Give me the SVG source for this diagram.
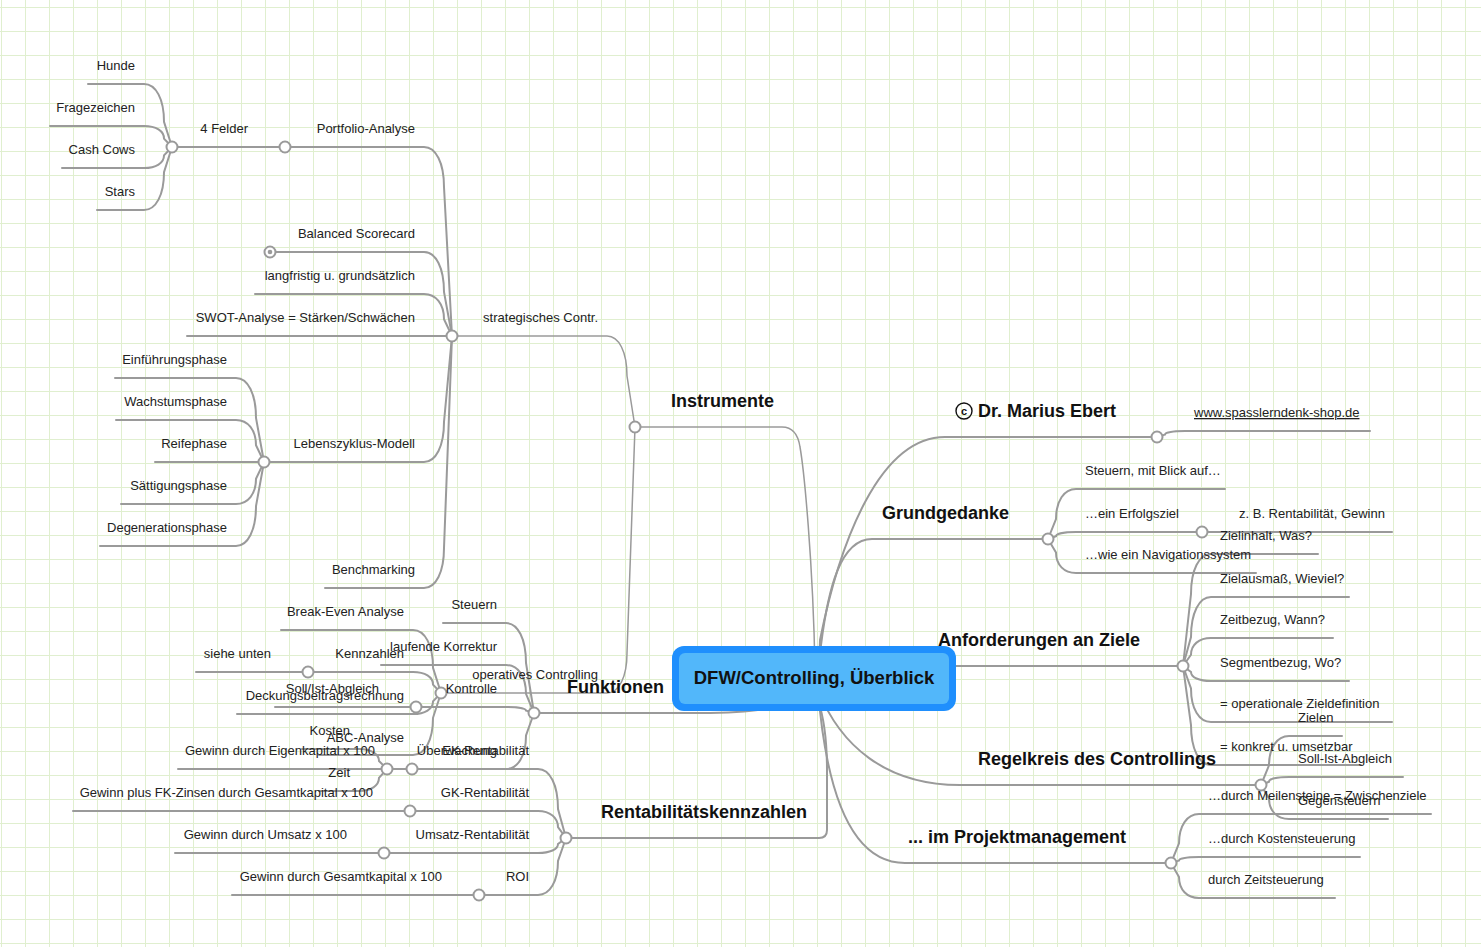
<svg xmlns="http://www.w3.org/2000/svg" width="1481" height="947" viewBox="0 0 1481 947">
<style>
.c{fill:none;stroke:#9a9a9a;stroke-width:2;stroke-linecap:round}
.ct{stroke-width:1.5}
.n{fill:#fff;stroke:#9a9a9a;stroke-width:2}
.t{font-family:"Liberation Sans",Arial,sans-serif;font-size:13px;fill:#222}
.l{text-anchor:end}
.b{font-size:18px;font-weight:bold;fill:#111}
</style>
<defs>
<pattern id="grid" x="1" y="7" width="24" height="24" patternUnits="userSpaceOnUse">
<path d="M0.5 0V24M0 0.5H24" stroke="#e0efcf" stroke-width="1" fill="none"/>
</pattern>
</defs>
<rect width="1481" height="947" fill="#fff"/>
<rect width="1481" height="947" fill="url(#grid)"/>

<g id="connectors">
<path class="c ct" d="M815,670 C813,560 804,470 800,447 Q797,427 782,427 L635,427"/>
<path class="c" d="M816,680 C800,712 740,713 700,713 L534,713"/>
<path class="c" d="M818,700 C824,718 827,740 827,770 L827,830 Q827,838 819,838 L566,838"/>
<path class="c" d="M819,670 L820,640 C840,540 880,437 945,437 L1157,437"/>
<path class="c" d="M819,670 L821,645 C828,590 840,539 872,539 L1048,539"/>
<path class="c" d="M900,666 L1183,666"/>
<path class="c" d="M818,690 C840,745 885,785 960,785 L1261,785"/>
<path class="c" d="M818,690 C826,790 850,863 905,863 L1171,863"/>
<path class="c ct" d="M452,336 L607,336 C619,336 627,352 627,376 L635,427"/>
<path class="c ct" d="M441,693 L607,693 C619,693 627,677 627,653 L635,427"/>
<path class="c" d="M285,147 L424,147 C436,147 444,163 444,187 L452,336"/>
<path class="c" d="M270,252 L424,252 C436,252 444,268 444,292 L452,336"/>
<path class="c" d="M255,294 L424,294 C436,294 444,304.1 444,319.2 L452,336"/>
<path class="c" d="M187,336 L452,336"/>
<path class="c" d="M264,462 L424,462 C436,462 444,446 444,422 L452,336"/>
<path class="c" d="M325,588 L424,588 C436,588 444,572 444,548 L452,336"/>
<path class="c" d="M172,147 L285,147"/>
<path class="c" d="M88,84 L144,84 C156,84 164,99.1 164,121.8 L172,147"/>
<path class="c" d="M50,126 L144,126 C156,126 164,131 164,138.6 L172,147"/>
<path class="c" d="M62,168 L144,168 C156,168 164,163 164,155.4 L172,147"/>
<path class="c" d="M97,210 L144,210 C156,210 164,194.9 164,172.2 L172,147"/>
<path class="c" d="M115,378 L236,378 C248,378 256,394 256,418 L264,462"/>
<path class="c" d="M116,420 L236,420 C248,420 256,430.1 256,445.2 L264,462"/>
<path class="c" d="M155,462 L264,462"/>
<path class="c" d="M121,504 L236,504 C248,504 256,493.9 256,478.8 L264,462"/>
<path class="c" d="M100,546 L236,546 C248,546 256,530 256,506 L264,462"/>
<path class="c" d="M281,630 L413,630 C425,630 433,645.1 433,667.8 L441,693"/>
<path class="c" d="M308,672 L413,672 C425,672 433,677 433,684.6 L441,693"/>
<path class="c" d="M237,714 L413,714 C425,714 433,709 433,701.4 L441,693"/>
<path class="c" d="M319,755 L413,755 C425,755 433,740.1 433,717.8 L441,693"/>
<path class="c" d="M196,672 L308,672"/>
<path class="c" d="M443,623 L506,623 C518,623 526,639 526,663 L534,713"/>
<path class="c" d="M381,665 L506,665 C518,665 526,676.5 526,693.8 L534,713"/>
<path class="c" d="M416,707 L506,707 C518,707 526,708.4 526,710.6 L534,713"/>
<path class="c" d="M387,769 L506,769 C518,769 526,755.6 526,735.4 L534,713"/>
<path class="c" d="M275,707 L416,707"/>
<path class="c" d="M302,749 L359,749 C371,749 379,753.8 379,761 L387,769"/>
<path class="c" d="M319,791 L359,791 C371,791 379,785.7 379,777.8 L387,769"/>
<path class="c" d="M412,769 L538,769 C550,769 558,785 558,809 L566,838"/>
<path class="c" d="M410,811 L538,811 C550,811 558,817.5 558,827.2 L566,838"/>
<path class="c" d="M384,853 L538,853 C550,853 558,849.4 558,844 L566,838"/>
<path class="c" d="M479,895 L538,895 C550,895 558,881.3 558,860.8 L566,838"/>
<path class="c" d="M178,769 L412,769"/>
<path class="c" d="M73,811 L410,811"/>
<path class="c" d="M175,853 L384,853"/>
<path class="c" d="M232,895 L479,895"/>
<path class="c" d="M1370,431 L1185,431 C1173,431 1165,432.4 1165,434.6 L1157,437"/>
<path class="c" d="M1225,489 L1076,489 C1064,489 1056,501 1056,519 L1048,539"/>
<path class="c" d="M1202,532 L1076,532 C1064,532 1056,533.7 1056,536.2 L1048,539"/>
<path class="c" d="M1256,573 L1076,573 C1064,573 1056,564.8 1056,552.6 L1048,539"/>
<path class="c" d="M1392,532 L1202,532"/>
<path class="c" d="M1318,554 L1211,554 C1199,554 1191,570 1191,594 L1183,666"/>
<path class="c" d="M1349,597 L1211,597 C1199,597 1191,613 1191,637 L1183,666"/>
<path class="c" d="M1333,638 L1211,638 C1199,638 1191,644.7 1191,654.8 L1183,666"/>
<path class="c" d="M1349,681 L1211,681 C1199,681 1191,677.4 1191,672 L1183,666"/>
<path class="c" d="M1392,722 L1211,722 C1199,722 1191,708.6 1191,688.4 L1183,666"/>
<path class="c" d="M1361,765 L1211,765 C1199,765 1191,749 1191,725 L1183,666"/>
<path class="c" d="M1342,736 L1289,736 C1277,736 1269,747.8 1269,765.4 L1261,785"/>
<path class="c" d="M1403,777 L1289,777 C1277,777 1269,778.9 1269,781.8 L1261,785"/>
<path class="c" d="M1388,819 L1289,819 C1277,819 1269,810.8 1269,798.6 L1261,785"/>
<path class="c" d="M1431,814 L1199,814 C1187,814 1179,825.8 1179,843.4 L1171,863"/>
<path class="c" d="M1360,857 L1199,857 C1187,857 1179,858.4 1179,860.6 L1171,863"/>
<path class="c" d="M1335,898 L1199,898 C1187,898 1179,889.6 1179,877 L1171,863"/>
</g>

<g id="center">
<rect x="672" y="646" width="284" height="65" rx="12" fill="#1f8ffd"/>
<rect x="679" y="653" width="270" height="51" rx="6" fill="#52b7fa"/>
<text class="t b" x="814" y="684" text-anchor="middle" style="font-size:18.5px">DFW/Controlling, Überblick</text>
</g>

<g id="instrumente"><circle class="n" cx="635" cy="427" r="5.5"/><text class="t b l" x="774" y="407">Instrumente</text></g>
<g id="strategisches"><circle class="n" cx="452" cy="336" r="5.5"/><text class="t l" x="598" y="322">strategisches Contr.</text></g>
<g id="portfolio"><circle class="n" cx="285" cy="147" r="5.5"/><text class="t l" x="415" y="133">Portfolio-Analyse</text></g>
<g id="felder"><circle class="n" cx="172" cy="147" r="5.5"/><text class="t l" x="248" y="133">4 Felder</text></g>
<g id="hunde"><text class="t l" x="135" y="70">Hunde</text></g>
<g id="fragezeichen"><text class="t l" x="135" y="112">Fragezeichen</text></g>
<g id="cashcows"><text class="t l" x="135" y="154">Cash Cows</text></g>
<g id="stars"><text class="t l" x="135" y="196">Stars</text></g>
<g id="bsc"><circle class="n" cx="270" cy="252" r="5.5"/><circle cx="270" cy="252" r="2.3" fill="#9a9a9a"/><text class="t l" x="415" y="238">Balanced Scorecard</text></g>
<g id="langfristig"><text class="t l" x="415" y="280">langfristig u. grundsätzlich</text></g>
<g id="swot"><text class="t l" x="415" y="322">SWOT-Analyse = Stärken/Schwächen</text></g>
<g id="lebenszyklus"><circle class="n" cx="264" cy="462" r="5.5"/><text class="t l" x="415" y="448">Lebenszyklus-Modell</text></g>
<g id="einfuehrung"><text class="t l" x="227" y="364">Einführungsphase</text></g>
<g id="wachstum"><text class="t l" x="227" y="406">Wachstumsphase</text></g>
<g id="reife"><text class="t l" x="227" y="448">Reifephase</text></g>
<g id="saettigung"><text class="t l" x="227" y="490">Sättigungsphase</text></g>
<g id="degeneration"><text class="t l" x="227" y="532">Degenerationsphase</text></g>
<g id="benchmarking"><text class="t l" x="415" y="574">Benchmarking</text></g>
<g id="operatives"><circle class="n" cx="441" cy="693" r="5.5"/><text class="t l" x="598" y="679">operatives Controlling</text></g>
<g id="breakeven"><text class="t l" x="404" y="616">Break-Even Analyse</text></g>
<g id="kennzahlen"><circle class="n" cx="308" cy="672" r="5.5"/><text class="t l" x="404" y="658">Kennzahlen</text></g>
<g id="sieheunten"><text class="t l" x="271" y="658">siehe unten</text></g>
<g id="deckungsbeitrag"><text class="t l" x="404" y="700">Deckungsbeitragsrechnung</text></g>
<g id="abc"><text class="t l" x="404" y="742">ABC-Analyse</text></g>
<g id="funktionen"><circle class="n" cx="534" cy="713" r="5.5"/><text class="t b l" x="664" y="693">Funktionen</text></g>
<g id="steuern"><text class="t l" x="497" y="609">Steuern</text></g>
<g id="korrektur"><text class="t l" x="497" y="651">laufende Korrektur</text></g>
<g id="kontrolle"><circle class="n" cx="416" cy="707" r="5.5"/><text class="t l" x="497" y="693">Kontrolle</text></g>
<g id="sollist"><text class="t l" x="379" y="693">Soll/Ist-Abgleich</text></g>
<g id="ueberwachung"><circle class="n" cx="387" cy="769" r="5.5"/><text class="t l" x="497" y="755">Überwachung</text></g>
<g id="kosten"><text class="t l" x="350" y="735">Kosten</text></g>
<g id="zeit"><text class="t l" x="350" y="777">Zeit</text></g>
<g id="rentabilitaet"><circle class="n" cx="566" cy="838" r="5.5"/><text class="t b l" x="807" y="818">Rentabilitätskennzahlen</text></g>
<g id="ek"><circle class="n" cx="412" cy="769" r="5.5"/><text class="t l" x="529" y="755">EK-Rentabilität</text></g>
<g id="ekformel"><text class="t l" x="375" y="755">Gewinn durch Eigenkapital x 100</text></g>
<g id="gk"><circle class="n" cx="410" cy="811" r="5.5"/><text class="t l" x="529" y="797">GK-Rentabilität</text></g>
<g id="gkformel"><text class="t l" x="373" y="797">Gewinn plus FK-Zinsen durch Gesamtkapital x 100</text></g>
<g id="umsatz"><circle class="n" cx="384" cy="853" r="5.5"/><text class="t l" x="529" y="839">Umsatz-Rentabilität</text></g>
<g id="umsatzformel"><text class="t l" x="347" y="839">Gewinn durch Umsatz x 100</text></g>
<g id="roi"><circle class="n" cx="479" cy="895" r="5.5"/><text class="t l" x="529" y="881">ROI</text></g>
<g id="roiformel"><text class="t l" x="442" y="881">Gewinn durch Gesamtkapital x 100</text></g>

<g id="ebert"><circle class="n" cx="1157" cy="437" r="5.5"/><circle cx="964" cy="411" r="8" fill="none" stroke="#111" stroke-width="1.4"/><text class="t" x="964" y="415" text-anchor="middle" style="font-size:11px;font-weight:bold;fill:#111">c</text><text class="t b" x="978" y="417">Dr. Marius Ebert</text></g>
<g id="www"><text class="t" x="1194" y="417" text-decoration="underline">www.spasslerndenk-shop.de</text></g>
<g id="grundgedanke"><circle class="n" cx="1048" cy="539" r="5.5"/><text class="t b" x="882" y="519">Grundgedanke</text></g>
<g id="blick"><text class="t" x="1085" y="475">Steuern, mit Blick auf…</text></g>
<g id="erfolgsziel"><circle class="n" cx="1202" cy="532" r="5.5"/><text class="t" x="1085" y="518">…ein Erfolgsziel</text></g>
<g id="zb"><text class="t" x="1239" y="518">z. B. Rentabilität, Gewinn</text></g>
<g id="navigation"><text class="t" x="1085" y="559">…wie ein Navigationssystem</text></g>
<g id="anforderungen"><circle class="n" cx="1183" cy="666" r="5.5"/><text class="t b" x="938" y="646">Anforderungen an Ziele</text></g>
<g id="zielinhalt"><text class="t" x="1220" y="540">Zielinhalt, Was?</text></g>
<g id="zielausmass"><text class="t" x="1220" y="583">Zielausmaß, Wieviel?</text></g>
<g id="zeitbezug"><text class="t" x="1220" y="624">Zeitbezug, Wann?</text></g>
<g id="segmentbezug"><text class="t" x="1220" y="667">Segmentbezug, Wo?</text></g>
<g id="operational"><text class="t" x="1220" y="708">= operationale Zieldefinition</text></g>
<g id="konkret"><text class="t" x="1220" y="751">= konkret u. umsetzbar</text></g>
<g id="regelkreis"><circle class="n" cx="1261" cy="785" r="5.5"/><text class="t b" x="978" y="765">Regelkreis des Controllings</text></g>
<g id="zielen"><text class="t" x="1298" y="722">Zielen</text></g>
<g id="sollistabgleich"><text class="t" x="1298" y="763">Soll-Ist-Abgleich</text></g>
<g id="gegensteuern"><text class="t" x="1298" y="805">Gegensteuern</text></g>
<g id="projekt"><circle class="n" cx="1171" cy="863" r="5.5"/><text class="t b" x="908" y="843">... im Projektmanagement</text></g>
<g id="meilensteine"><text class="t" x="1208" y="800">…durch Meilensteine = Zwischenziele</text></g>
<g id="kostensteuerung"><text class="t" x="1208" y="843">…durch Kostensteuerung</text></g>
<g id="zeitsteuerung"><text class="t" x="1208" y="884">durch Zeitsteuerung</text></g>
</svg>
